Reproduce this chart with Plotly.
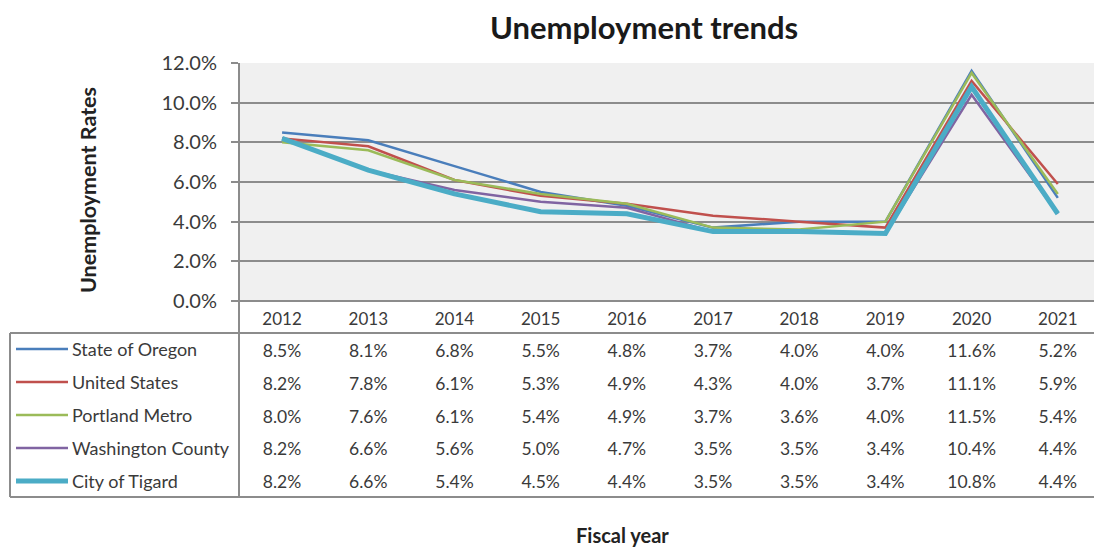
import plotly.graph_objects as go

# Fiscal years and unemployment rates (%) by area
years = ["2012", "2013", "2014", "2015", "2016", "2017", "2018", "2019", "2020", "2021"]
state_of_oregon = [8.5, 8.1, 6.8, 5.5, 4.8, 3.7, 4.0, 4.0, 11.6, 5.2]
united_states = [8.2, 7.8, 6.1, 5.3, 4.9, 4.3, 4.0, 3.7, 11.1, 5.9]
portland_metro = [8.0, 7.6, 6.1, 5.4, 4.9, 3.7, 3.6, 4.0, 11.5, 5.4]
washington_county = [8.2, 6.6, 5.6, 5.0, 4.7, 3.5, 3.5, 3.4, 10.4, 4.4]
city_of_tigard = [8.2, 6.6, 5.4, 4.5, 4.4, 3.5, 3.5, 3.4, 10.8, 4.4]

series = [
    ("State of Oregon", state_of_oregon, "#4a7ebb", 2.5),
    ("United States", united_states, "#c0504d", 2.5),
    ("Portland Metro", portland_metro, "#9bbb59", 2.5),
    ("Washington County", washington_county, "#8064a2", 2.5),
    ("City of Tigard", city_of_tigard, "#4bacc6", 5),
]
names = [s[0] for s in series]

W, H = 1094, 550
# pixel layout of the chart area and the data table below it
PLOT_L, PLOT_R, PLOT_T = 239, 1094, 63
CHART_B = 301
TABLE_T, TABLE_B, TABLE_L = 333, 497, 10
FONT = "Lato"
GRID = "#8c8c8c"
TXT = "#3a3a3a"

AREA_H = TABLE_B - PLOT_T


def py(y):
    return (TABLE_B - y) / AREA_H


def pxx(x):
    return (x - PLOT_L) / (PLOT_R - PLOT_L)


chart_domain = [py(CHART_B), 1]
table_domain = [0, py(TABLE_T)]

fig = go.Figure()
for name, vals, color, width in series:
    fig.add_trace(go.Scatter(
        x=years, y=vals, mode="lines", name=name,
        line=dict(color=color, width=width), showlegend=False,
        xaxis="x", yaxis="y",
    ))

# data table values, one row per series
for name, vals, color, width in series:
    fig.add_trace(go.Scatter(
        x=years, y=[name] * len(years), mode="text",
        text=[f"{v:.1f}%" for v in vals], textposition="middle center",
        textfont=dict(family=FONT, size=17.5, color=TXT),
        showlegend=False, hoverinfo="skip", xaxis="x", yaxis="y2",
    ))

shapes = [
    # chart background
    dict(type="rect", xref="x domain", yref="y domain", x0=0, x1=1, y0=0, y1=1,
         fillcolor="#f0f0f0", line=dict(width=0), layer="below"),
]
line_style = dict(color=GRID, width=2)
shapes += [
    dict(type="line", xref="paper", yref="paper", x0=pxx(TABLE_L), x1=1.02,
         y0=py(TABLE_T), y1=py(TABLE_T), line=line_style),
    dict(type="line", xref="paper", yref="paper", x0=pxx(TABLE_L), x1=1.02,
         y0=py(TABLE_B), y1=py(TABLE_B), line=line_style),
    dict(type="line", xref="paper", yref="paper", x0=pxx(TABLE_L), x1=pxx(TABLE_L),
         y0=py(TABLE_T), y1=py(TABLE_B), line=line_style),
    dict(type="line", xref="paper", yref="paper", x0=0, x1=0, y0=1, y1=0, line=line_style),
    dict(type="line", xref="paper", yref="paper", x0=pxx(232), x1=1.02,
         y0=py(CHART_B), y1=py(CHART_B), line=line_style),
]

annotations = []
row_y = [349, 382, 415, 448, 481]
for (name, vals, color, width), ry in zip(series, row_y):
    shapes.append(dict(type="line", xref="paper", yref="paper",
                       x0=pxx(16), x1=pxx(68), y0=py(ry), y1=py(ry),
                       line=dict(color=color, width=width)))
    annotations.append(dict(xref="paper", yref="paper", x=pxx(70), y=py(ry),
                            text=name, showarrow=False, xanchor="left", yanchor="middle",
                            font=dict(family=FONT, size=18, color=TXT)))

annotations.append(dict(xref="paper", yref="paper", x=pxx(88), y=py(190),
                        text="<b>Unemployment Rates</b>", textangle=-90, showarrow=False,
                        xanchor="center", yanchor="middle",
                        font=dict(family=FONT, size=21.5, color="#222222")))
annotations.append(dict(xref="paper", yref="paper", x=pxx(644), y=py(27),
                        text="<b>Unemployment trends</b>", showarrow=False,
                        xanchor="center", yanchor="middle",
                        font=dict(family=FONT, size=31, color="#1a1a1a")))
annotations.append(dict(xref="paper", yref="paper", x=pxx(622), y=py(535),
                        text="<b>Fiscal year</b>", showarrow=False,
                        xanchor="center", yanchor="middle",
                        font=dict(family=FONT, size=20, color="#222222")))

fig.update_layout(
    width=W, height=H,
    margin=dict(l=PLOT_L, r=W - PLOT_R, t=PLOT_T, b=H - TABLE_B, pad=0),
    paper_bgcolor="white",
    plot_bgcolor="white",
    shapes=shapes,
    annotations=annotations,
    xaxis=dict(type="category", categoryorder="array", categoryarray=years,
               range=[-0.5, 9.42], anchor="y", showgrid=False, zeroline=False,
               showline=False, ticks="", tickfont=dict(family=FONT, size=17, color=TXT),
               ticklabelstandoff=6),
    yaxis=dict(domain=chart_domain, range=[0, 12], tickvals=[0, 2, 4, 6, 8, 10, 12],
               ticktext=["0.0%", "2.0%", "4.0%", "6.0%", "8.0%", "10.0%", "12.0%"],
               showgrid=True, gridcolor=GRID, gridwidth=2, zeroline=False,
               showline=False, ticks="outside", ticklen=7, tickwidth=2, tickcolor=GRID,
               tickfont=dict(family=FONT, size=20, color=TXT), ticklabelstandoff=10),
    yaxis2=dict(domain=table_domain, type="category", categoryorder="array",
                categoryarray=names, range=[4.4, -0.6], anchor="x",
                showgrid=False, zeroline=False, showline=False,
                showticklabels=False, ticks=""),
)

fig.write_html("out.html")
